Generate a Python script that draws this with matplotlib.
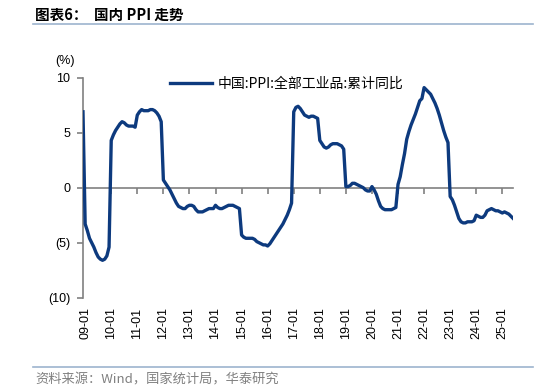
import matplotlib
matplotlib.use("Agg")
import matplotlib.pyplot as plt
import numpy as np
import pandas as pd

# Cumulative YoY PPI, monthly from 2008-12 to 2025-06
start = "2008-12"
ppi = [6.9,
       -3.3, -3.9, -4.6, -5.0, -5.4, -5.9, -6.3, -6.5, -6.6, -6.5, -6.2, -5.4,   # 2009
       4.3, 4.8, 5.2, 5.5, 5.8, 6.0, 5.9, 5.7, 5.6, 5.6, 5.6, 5.5,               # 2010
       6.6, 6.9, 7.1, 7.0, 7.0, 7.0, 7.1, 7.1, 7.0, 6.8, 6.5, 6.0,               # 2011
       0.7, 0.4, 0.1, -0.2, -0.6, -1.0, -1.4, -1.7, -1.8, -1.9, -1.9, -1.7,      # 2012
       -1.6, -1.6, -1.7, -2.0, -2.2, -2.2, -2.2, -2.1, -2.0, -1.9, -1.9, -1.9,   # 2013
       -1.6, -1.8, -1.9, -1.9, -1.8, -1.7, -1.6, -1.6, -1.6, -1.7, -1.8, -1.9,   # 2014
       -4.3, -4.5, -4.6, -4.6, -4.6, -4.6, -4.7, -4.9, -5.0, -5.1, -5.2, -5.2,   # 2015
       -5.3, -5.1, -4.8, -4.5, -4.2, -3.9, -3.6, -3.3, -2.9, -2.5, -2.0, -1.4,   # 2016
       6.9, 7.3, 7.4, 7.2, 6.9, 6.6, 6.5, 6.4, 6.5, 6.5, 6.4, 6.3,               # 2017
       4.3, 4.0, 3.7, 3.6, 3.7, 3.9, 4.0, 4.0, 4.0, 3.9, 3.8, 3.5,               # 2018
       0.1, 0.1, 0.2, 0.4, 0.4, 0.3, 0.2, 0.1, 0.0, -0.2, -0.3, -0.3,            # 2019
       0.1, -0.2, -0.6, -1.2, -1.7, -1.9, -2.0, -2.0, -2.0, -2.0, -1.9, -1.8,    # 2020
       0.3, 1.0, 2.1, 3.1, 4.4, 5.1, 5.7, 6.2, 6.7, 7.3, 7.9, 8.1,               # 2021
       9.1, 8.9, 8.7, 8.5, 8.1, 7.7, 7.2, 6.6, 5.9, 5.2, 4.6, 4.1,               # 2022
       -0.8, -1.1, -1.6, -2.2, -2.8, -3.1, -3.2, -3.2, -3.1, -3.1, -3.1, -3.0,   # 2023
       -2.5, -2.6, -2.7, -2.7, -2.5, -2.1, -2.0, -1.9, -2.0, -2.1, -2.1, -2.2,   # 2024
       -2.3, -2.2, -2.3, -2.4, -2.6, -2.8]                                       # 2025

yticks = [10, 5, 0, -5, -10]
ytick_labels = ["10", "5", "0", "(5)", "(10)"]
series_name = "中国:PPI:全部工业品:累计同比"
title = "图表6：  国内 PPI 走势"
source = "资料来源：Wind，国家统计局，华泰研究"

dates = pd.period_range(start, periods=len(ppi), freq="M")
x = np.arange(len(ppi))
tick_idx = [i for i, d in enumerate(dates) if d.month == 1]
tick_lbl = [f"{d.year % 100:02d}-01" for d in dates if d.month == 1]

plt.rcParams['font.family'] = ['Liberation Sans', 'Noto Sans CJK SC', 'DejaVu Sans']

fig = plt.figure(figsize=(5.34, 3.92), dpi=100)
ax = fig.add_axes([0.1554, 0.2406, 0.961 - 0.1554, 0.8018 - 0.2406])

line_color = "#0D3A7E"
axis_color = "#808080"

ax.plot(x, ppi, color=line_color, lw=2.4, solid_joinstyle='round', label=series_name, zorder=3)

ax.set_xlim(0, len(ppi) - 1)
ax.set_ylim(-10, 10)
ax.set_yticks(yticks)
ax.set_yticklabels(ytick_labels, fontsize=9)

for s in ['top', 'right']:
    ax.spines[s].set_visible(False)
ax.spines['left'].set_color(axis_color)
ax.spines['left'].set_linewidth(1.2)
ax.spines['bottom'].set_position(('data', 0))
ax.spines['bottom'].set_color(axis_color)
ax.spines['bottom'].set_linewidth(1.2)
ax.tick_params(axis='y', direction='out', length=4, width=1.2, color=axis_color, pad=5)
ax.set_xticks(tick_idx)
ax.tick_params(axis='x', direction='out', length=4, width=1.2, color=axis_color, labelbottom=False)

sec = ax.secondary_xaxis(0)
sec.set_xticks(tick_idx)
sec.set_xticklabels(tick_lbl, rotation=90, fontsize=9)
sec.tick_params(length=0, pad=7)
sec.spines['bottom'].set_visible(False)

fig.text(0.121, 0.845, "(%)", fontsize=9, ha='center', va='center')

leg = ax.legend(loc='upper left', bbox_to_anchor=(0.19, 1.03), frameon=False, fontsize=10,
                handlelength=3.0, handletextpad=0.4, borderaxespad=0)
for t in leg.get_texts():
    t.set_family(['Noto Sans CJK SC', 'Liberation Sans'])

fig.text(0.066, 0.963, title, fontsize=10.5, fontweight='bold', ha='left', va='center',
         family=['Noto Sans CJK SC', 'Liberation Sans'])
fig.add_artist(plt.Line2D([0.062, 0.998], [0.938, 0.938], color="#9DB4CE", lw=1.2))
fig.add_artist(plt.Line2D([0.062, 0.998], [0.063, 0.063], color="#9DB4CE", lw=1.2))
fig.text(0.066, 0.03, source, fontsize=9.5, color="#808080", ha='left', va='center',
         family=['Noto Sans CJK SC', 'Liberation Sans'])

fig.savefig("out.png", dpi=100)
